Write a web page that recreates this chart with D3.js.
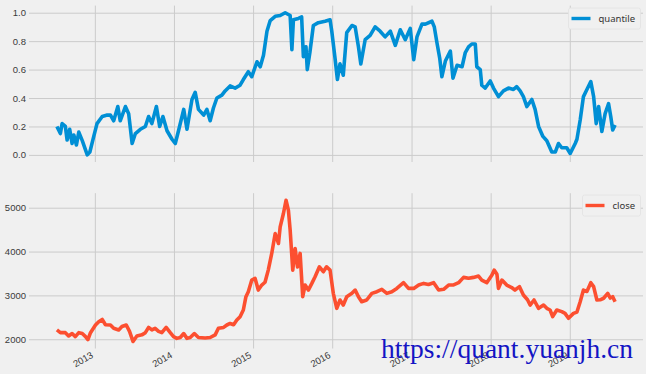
<!DOCTYPE html>
<html><head><meta charset="utf-8">
<script src="https://cdn.jsdelivr.net/npm/d3@7"></script>
<style>
html,body{margin:0;padding:0;background:#f0f0f0;}
svg{display:block;font-family:"Noto Sans","Open Sans",sans-serif;}
</style></head><body>
<svg id="c" width="646" height="374"></svg>
<script>
// ---- data ----
const yearTicks = ["2013","2014","2015","2016","2017","2018","2019"];
const quantileTicks = [0.0,0.2,0.4,0.6,0.8,1.0];
const closeTicks = [2000,3000,4000,5000];

const quantileDates = ["2012-07-10","2012-07-26","2012-08-03","2012-08-18","2012-08-26","2012-09-07","2012-09-18","2012-09-26","2012-10-08","2012-10-19","2012-11-04","2012-11-27","2012-12-09","2012-12-27",
"2013-01-11","2013-02-04","2013-02-27","2013-03-14","2013-03-29","2013-04-17","2013-04-28","2013-05-22","2013-06-06","2013-06-22","2013-07-07","2013-07-30","2013-08-22","2013-09-06","2013-09-21","2013-10-12","2013-10-27","2013-11-11","2013-11-30","2013-12-23",
"2014-01-07","2014-01-22","2014-02-15","2014-03-02","2014-03-25","2014-04-09","2014-04-24","2014-05-18","2014-06-02","2014-06-17","2014-07-02","2014-07-18","2014-08-10","2014-08-25","2014-09-17","2014-10-10","2014-11-02","2014-11-17","2014-12-10","2014-12-26",
"2015-01-19","2015-02-03","2015-02-18","2015-03-06","2015-03-21","2015-04-13","2015-05-06","2015-05-29","2015-06-21","2015-06-29","2015-07-06","2015-07-29","2015-08-13","2015-08-21","2015-09-02","2015-09-08","2015-09-20","2015-10-06","2015-10-29","2015-11-29","2015-12-22","2015-12-30",
"2016-01-14","2016-01-25","2016-02-06","2016-02-21","2016-03-08","2016-04-01","2016-04-16","2016-05-01","2016-05-12","2016-06-01","2016-06-24","2016-07-17","2016-08-09","2016-09-01","2016-09-25","2016-10-18","2016-11-10","2016-12-03","2016-12-26",
"2017-01-11","2017-01-26","2017-02-18","2017-03-06","2017-04-05","2017-04-16","2017-04-28","2017-05-11","2017-05-21","2017-06-06","2017-06-29","2017-07-11","2017-07-30","2017-08-22","2017-09-06","2017-09-21","2017-10-06","2017-10-22","2017-10-29","2017-11-14","2017-11-21","2017-12-07","2017-12-30",
"2018-01-14","2018-02-06","2018-03-01","2018-03-24","2018-04-16","2018-05-01","2018-05-17","2018-06-01","2018-06-17","2018-07-10","2018-07-25","2018-08-10","2018-08-30","2018-09-17","2018-10-10","2018-10-26","2018-11-10","2018-11-25","2018-12-18",
"2019-01-03","2019-01-26","2019-02-03","2019-02-18","2019-03-05","2019-03-21","2019-04-08","2019-04-21","2019-05-03","2019-05-14","2019-05-29","2019-06-13","2019-06-29","2019-07-09","2019-07-18","2019-07-29"];
const quantileValues = [0.20,0.15,0.22,0.20,0.105,0.18,0.08,0.14,0.07,0.16,0.10,0.00,0.02,0.13,
0.22,0.27,0.28,0.28,0.24,0.34,0.24,0.34,0.29,0.08,0.15,0.18,0.20,0.27,0.22,0.34,0.20,0.27,0.17,0.11,
0.08,0.17,0.32,0.18,0.39,0.44,0.32,0.28,0.32,0.24,0.33,0.40,0.42,0.45,0.485,0.47,0.49,0.53,0.585,0.55,
0.655,0.62,0.70,0.87,0.945,0.975,0.98,1.00,0.98,0.74,0.95,0.96,0.97,0.69,0.76,0.60,0.72,0.91,0.93,0.94,0.95,0.87,
0.68,0.53,0.64,0.56,0.86,0.91,0.90,0.76,0.64,0.81,0.84,0.90,0.87,0.83,0.87,0.77,0.88,0.81,0.89,
0.67,0.83,0.92,0.92,0.94,0.90,0.79,0.68,0.55,0.66,0.73,0.54,0.63,0.62,0.72,0.76,0.78,0.78,0.62,0.60,0.49,0.47,0.52,
0.47,0.41,0.45,0.47,0.46,0.48,0.45,0.41,0.34,0.39,0.32,0.20,0.13,0.10,0.02,0.02,0.08,0.05,0.05,
0.01,0.08,0.11,0.245,0.41,0.46,0.515,0.41,0.22,0.34,0.165,0.29,0.36,0.27,0.175,0.21];

const closeDates = ["2012-07-10","2012-07-26","2012-08-18","2012-09-02","2012-09-18","2012-10-03","2012-10-19","2012-11-04","2012-11-19","2012-11-30","2012-12-12",
"2013-01-04","2013-01-19","2013-02-04","2013-02-19","2013-03-14","2013-03-29","2013-04-21","2013-05-06","2013-05-26","2013-06-10","2013-06-26","2013-07-14","2013-08-06","2013-08-22","2013-09-06","2013-09-21","2013-10-06","2013-10-22","2013-11-06","2013-11-26","2013-12-15","2013-12-30",
"2014-01-14","2014-01-30","2014-02-15","2014-03-02","2014-03-17","2014-04-05","2014-04-24","2014-05-25","2014-06-17","2014-07-10","2014-07-25","2014-08-18","2014-09-02","2014-09-17","2014-10-03","2014-10-18","2014-11-02","2014-11-17","2014-11-29","2014-12-10","2014-12-26",
"2015-01-10","2015-01-25","2015-02-10","2015-02-25","2015-03-12","2015-03-28","2015-04-13","2015-04-28","2015-05-06","2015-05-21","2015-06-02","2015-06-13","2015-06-21","2015-07-03","2015-07-14","2015-07-25","2015-08-06","2015-08-18","2015-08-29","2015-09-13","2015-09-29","2015-10-14","2015-11-03","2015-11-21","2015-12-06","2015-12-22",
"2016-01-06","2016-01-22","2016-02-06","2016-02-21","2016-03-08","2016-04-01","2016-04-16","2016-05-01","2016-05-16","2016-06-08","2016-07-02","2016-07-25","2016-08-17","2016-09-09","2016-10-02","2016-10-25","2016-11-25","2016-12-18",
"2017-01-11","2017-02-03","2017-02-26","2017-03-20","2017-04-13","2017-05-06","2017-05-29","2017-06-21","2017-07-14","2017-08-06","2017-08-29","2017-09-21","2017-10-14","2017-11-06","2017-11-21","2017-12-14",
"2018-01-07","2018-01-17","2018-01-30","2018-02-06","2018-02-22","2018-03-16","2018-04-08","2018-04-23","2018-05-14","2018-06-01","2018-06-20","2018-07-02","2018-07-20","2018-08-10","2018-09-02","2018-09-17","2018-10-02","2018-10-14","2018-11-02","2018-11-25","2018-12-10","2018-12-26",
"2019-01-18","2019-02-03","2019-02-18","2019-03-05","2019-03-21","2019-04-08","2019-04-21","2019-05-06","2019-05-21","2019-06-06","2019-06-25","2019-07-07","2019-07-18","2019-07-29"];
const closeValues = [2212,2150,2150,2075,2130,2060,2150,2130,2060,1990,2150,
2325,2400,2450,2330,2325,2250,2212,2290,2325,2180,1950,2075,2100,2150,2270,2212,2250,2180,2150,2270,2150,2060,
2020,2040,2130,2020,2040,2130,2040,2030,2040,2100,2250,2270,2325,2360,2330,2440,2515,2667,2970,3083,3350,
3390,3122,3236,3300,3577,3957,4412,4185,4563,4868,5170,4940,4488,3577,4071,3650,3957,2970,3236,3122,3274,3425,3652,3540,3652,3577,
3047,2705,2895,2780,2970,3047,3122,2970,2857,2895,3047,3085,3138,3047,3085,3160,3290,3160,
3160,3236,3274,3250,3290,3122,3140,3236,3240,3290,3411,3390,3411,3440,3350,3290,
3464,3577,3480,3160,3350,3236,3180,3122,3200,3008,2900,2780,2895,2705,2780,2705,2667,2515,2667,2630,2590,2478,
2590,2620,2857,3122,3090,3290,3200,2895,2900,2935,3047,2940,2970,2857];

// ---- layout ----
const L = 29, R = 643;
const topBox = {y0: 5.6, y1: 162};
const botBox = {y0: 193.2, y1: 348.5};
const blue = "#008fd5", red = "#fc4f30", grid = "#cbcbcb";

const parse = d3.timeParse("%Y-%m-%d");
const qData = quantileDates.map((d,i)=>({date:parse(d), v:quantileValues[i]}));
const cData = closeDates.map((d,i)=>({date:parse(d), v:closeValues[i]}));

const allDates = qData.map(d=>d.date).concat(cData.map(d=>d.date));
const [dMin, dMax] = d3.extent(allDates);
const pad = (dMax - dMin) * 0.05;
const x = d3.scaleTime().domain([new Date(+dMin - pad), new Date(+dMax + pad)]).range([L, R]);

const qExt = [0, 1];
const qPad = (qExt[1]-qExt[0])*0.05;
const yq = d3.scaleLinear().domain([qExt[0]-qPad, qExt[1]+qPad]).range([topBox.y1, topBox.y0]);
const cExt = d3.extent(closeValues);
const cPad = (cExt[1]-cExt[0])*0.05;
const yc = d3.scaleLinear().domain([cExt[0]-cPad, cExt[1]+cPad]).range([botBox.y1, botBox.y0]);

const yearDates = yearTicks.map(y=>parse(y+"-01-01"));

const svg = d3.select("#c");
svg.append("rect").attr("width",646).attr("height",374).attr("fill","#f0f0f0");

function panel(box, yScale, yTickVals, yFmt, showX) {
  const g = svg.append("g");
  const ya = g.append("g").attr("transform",`translate(${L},0)`)
    .call(d3.axisLeft(yScale).tickValues(yTickVals).tickFormat(yFmt).tickSize(-(R-L)).tickPadding(3));
  ya.select(".domain").remove();
  ya.selectAll("line").attr("stroke",grid).attr("stroke-width",1);
  ya.selectAll("text").attr("fill","#3a3a3a").attr("font-size","9.5px").attr("x",-3);
  const xa = g.append("g").attr("transform",`translate(0,${box.y1})`)
    .call(d3.axisBottom(x).tickValues(yearDates).tickFormat((d,i)=>showX?yearTicks[i]:"").tickSize(-(box.y1-box.y0)));
  xa.select(".domain").remove();
  xa.selectAll("line").attr("stroke",grid).attr("stroke-width",1);
  xa.selectAll("text").attr("fill","#3a3a3a").attr("font-size","9.5px")
    .attr("y",0).attr("dy",0).attr("text-anchor","end")
    .attr("transform","translate(-1.5,8.5) rotate(-30)");
  return g;
}

panel(topBox, yq, quantileTicks, d3.format(".1f"), false);
panel(botBox, yc, closeTicks, d3.format("d"), true);

const lineQ = d3.line().x(d=>x(d.date)).y(d=>yq(d.v));
const lineC = d3.line().x(d=>x(d.date)).y(d=>yc(d.v));
svg.append("path").datum(qData).attr("d",lineQ).attr("fill","none").attr("stroke",blue).attr("stroke-width",3.6).attr("stroke-linejoin","round");
svg.append("path").datum(cData).attr("d",lineC).attr("fill","none").attr("stroke",red).attr("stroke-width",3.6).attr("stroke-linejoin","round");

function legend(xr, yc0, w, label, color) {
  const g = svg.append("g");
  g.append("rect").attr("x",xr).attr("y",yc0-10.5).attr("width",w).attr("height",21).attr("rx",2)
    .attr("fill","#f0f0f0").attr("stroke","#e2e2e2").attr("stroke-width",0.8);
  g.append("line").attr("x1",xr+3).attr("x2",xr+22).attr("y1",yc0).attr("y2",yc0)
    .attr("stroke",color).attr("stroke-width",3.4);
  g.append("text").attr("x",xr+30).attr("y",yc0).attr("dominant-baseline","central")
    .attr("font-size","9.5px").attr("fill","#333").text(label);
}
legend(568.5, 18.5, 72, "quantile", blue);
legend(582.5, 205.5, 58, "close", red);

svg.append("text").attr("x",381).attr("y",358).attr("font-family","'Liberation Serif','DejaVu Serif',serif")
  .attr("font-size","27.5px").attr("fill","#1414c4").text("https://quant.yuanjh.cn");
</script>
</body></html>
